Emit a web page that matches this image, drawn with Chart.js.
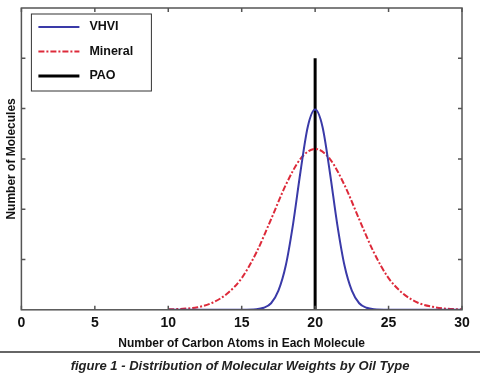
<!DOCTYPE html>
<html>
<head>
<meta charset="utf-8">
<script src="https://cdn.jsdelivr.net/npm/chart.js@4.4.0/dist/chart.umd.min.js"></script>
<style>
  body { margin: 0; background: #fff; width: 480px; height: 376px; overflow: hidden; }
  #wrap { position: relative; width: 480px; height: 352px; }
  #rule { position: absolute; left: 0; top: 351px; width: 480px; height: 0; border-top: 2px solid #666; }
  #caption { position: absolute; left: 0; top: 358px; width: 480px; text-align: center;
    font: italic bold 13px "Liberation Sans", Arial, sans-serif; color: #222; }
</style>
</head>
<body>
<div id="wrap"><canvas id="chart"></canvas></div>
<div id="rule"></div>
<div id="caption">figure 1 - Distribution of Molecular Weights by Oil Type</div>
<script>
// values (y in tick units, 0..6)
const vhviX = [10, 11, 12, 13, 14, 15, 16, 16.5, 17, 17.5, 18, 18.5, 19, 19.5, 20,
  20.5, 21, 21.5, 22, 22.5, 23, 23.5, 24, 25, 26, 27, 28, 29, 30];
const vhviY = [0, 0, 0, 0, 0, 0, 0.01, 0.04, 0.13, 0.38, 0.88, 1.71, 2.74, 3.64, 3.98,
  3.64, 2.74, 1.71, 0.88, 0.38, 0.13, 0.04, 0.01, 0, 0, 0, 0, 0, 0];

const mineralX = [10, 11, 12, 13, 14, 15, 16, 17, 18, 19, 20, 21, 22, 23, 24, 25, 26, 27, 28, 29, 30];
const mineralY = [0.01, 0.02, 0.05, 0.14, 0.32, 0.63, 1.14, 1.8, 2.48, 3.0, 3.2,
  3.0, 2.48, 1.8, 1.14, 0.63, 0.32, 0.14, 0.06, 0.02, 0.01];

const paoX = [20, 20];
const paoY = [0, 5];

const xTicks = [0, 5, 10, 15, 20, 25, 30];
const yTicks = [1, 2, 3, 4, 5];

const FONT = '"Liberation Sans", Arial, sans-serif';

function pts(xs, ys) {
  return xs.map((x, i) => ({ x: x, y: ys[i] }));
}

const datasets = [{
  label: 'VHVI',
  data: pts(vhviX, vhviY),
  borderColor: '#3a3aa8',
  borderWidth: 2,
  cubicInterpolationMode: 'monotone'
}, {
  label: 'Mineral',
  data: pts(mineralX, mineralY),
  borderColor: '#dd2a3a',
  borderWidth: 2,
  borderDash: [6, 2, 2, 2],
  cubicInterpolationMode: 'monotone'
}, {
  label: 'PAO',
  data: pts(paoX, paoY),
  borderColor: '#000',
  borderWidth: 3
}];

// matlab style box, inward ticks and legend
const boxPlugin = {
  id: 'box',
  afterDatasetsDraw(chart) {
    const { ctx, chartArea: a, scales } = chart;
    ctx.save();
    ctx.strokeStyle = '#555';
    ctx.lineWidth = 1.5;
    ctx.strokeRect(a.left, a.top, a.right - a.left, a.bottom - a.top);
    ctx.beginPath();
    xTicks.forEach(v => {
      const px = scales.x.getPixelForValue(v);
      ctx.moveTo(px, a.bottom); ctx.lineTo(px, a.bottom - 4);
      ctx.moveTo(px, a.top); ctx.lineTo(px, a.top + 4);
    });
    yTicks.forEach(v => {
      const py = scales.y.getPixelForValue(v);
      ctx.moveTo(a.left, py); ctx.lineTo(a.left + 4, py);
      ctx.moveTo(a.right, py); ctx.lineTo(a.right - 4, py);
    });
    ctx.stroke();

    // legend
    const lx = a.left + 10, ly = a.top + 6, lw = 120, lh = 77;
    ctx.fillStyle = '#fff';
    ctx.fillRect(lx, ly, lw, lh);
    ctx.strokeStyle = '#333';
    ctx.lineWidth = 1;
    ctx.strokeRect(lx, ly, lw, lh);
    ctx.font = 'bold 12.5px ' + FONT;
    ctx.textBaseline = 'middle';
    chart.data.datasets.forEach((ds, i) => {
      const y = ly + 13 + i * 24.5;
      ctx.beginPath();
      ctx.strokeStyle = ds.borderColor;
      ctx.lineWidth = ds.borderWidth;
      ctx.setLineDash(ds.borderDash || []);
      ctx.moveTo(lx + 7, y); ctx.lineTo(lx + 48, y);
      ctx.stroke();
      ctx.setLineDash([]);
      ctx.fillStyle = '#111';
      ctx.fillText(ds.label, lx + 58, y);
    });
    ctx.restore();
  }
};

new Chart(document.getElementById('chart'), {
  type: 'line',
  data: { datasets },
  options: {
    responsive: true,
    maintainAspectRatio: false,
    animation: false,
    layout: { padding: { top: 8, right: 18, left: 0, bottom: 0 } },
    elements: { point: { radius: 0 } },
    plugins: { legend: { display: false }, tooltip: { enabled: false } },
    scales: {
      x: {
        type: 'linear',
        min: 0, max: 30,
        afterBuildTicks: s => { s.ticks = xTicks.map(v => ({ value: v })); },
        grid: { display: false, drawTicks: false },
        border: { display: false },
        ticks: { font: { family: FONT, size: 14, weight: 'bold' }, color: '#111', padding: 5, maxRotation: 0 },
        title: { display: true, text: 'Number of Carbon Atoms in Each Molecule',
          font: { family: FONT, size: 12, weight: 'bold' }, color: '#111', padding: { top: 0, bottom: 1 } }
      },
      y: {
        type: 'linear',
        min: 0, max: 6,
        grid: { display: false, drawTicks: false },
        border: { display: false },
        ticks: { display: false },
        title: { display: true, text: 'Number of Molecules',
          font: { family: FONT, size: 12, weight: 'bold' }, color: '#111', padding: { top: 4, bottom: 3 } }
      }
    }
  },
  plugins: [boxPlugin]
});
</script>
</body>
</html>
